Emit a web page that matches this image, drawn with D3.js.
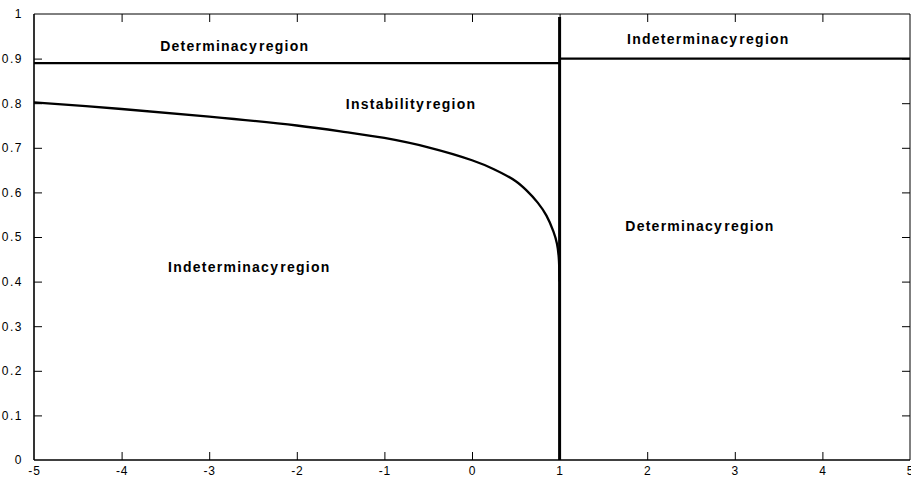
<!DOCTYPE html>
<html>
<head>
<meta charset="utf-8">
<script src="https://cdn.jsdelivr.net/npm/d3@7"></script>
<style>
  html, body { margin: 0; padding: 0; background: #fff; }
  svg { display: block; }
</style>
</head>
<body>
<svg id="chart" width="911" height="478"></svg>
<script>
// ---- data ----
const xTicks = [-5, -4, -3, -2, -1, 0, 1, 2, 3, 4, 5];
const xTickLabels = ["-5", "-4", "-3", "-2", "-1", "0", "1", "2", "3", "4", "5"];
const yTicks = [0, 0.1, 0.2, 0.3, 0.4, 0.5, 0.6, 0.7, 0.8, 0.9, 1];
const yTickLabels = ["0", "0.1", "0.2", "0.3", "0.4", "0.5", "0.6", "0.7", "0.8", "0.9", "1"];

// boundary curve (left part)
const curveX = [-5, -4, -3, -2, -1.5, -1, -0.5, 0, 0.25, 0.5, 0.625, 0.75, 0.85, 0.93, 0.97, 0.99, 1.0];
const curveY = [0.802, 0.787, 0.770, 0.750, 0.737, 0.722, 0.701, 0.672, 0.652, 0.625, 0.604, 0.577, 0.548, 0.512, 0.485, 0.455, 0.40];

// horizontal boundaries
const leftLineX = [-5, 1];
const leftLineY = 0.89;
const rightLineX = [1, 5];
const rightLineY = 0.9;

// vertical boundary
const vertX = 1;
const vertY = [0, 0.993];

// region labels
const labelText = ["Determinacy region", "Instability region", "Indeterminacy region", "Determinacy region", "Indeterminacy region"];
const labelX = [-3.56, -1.44, 1.77, 1.75, -3.47];
const labelY = [0.917, 0.787, 0.933, 0.513, 0.4215];

// ---- layout ----
const W = 911, H = 478;
const margin = {left: 34, right: 1, top: 14, bottom: 18};
const svg = d3.select("#chart");
const x = d3.scaleLinear().domain([-5, 5]).range([margin.left, W - margin.right]);
const y = d3.scaleLinear().domain([0, 1]).range([H - margin.bottom, margin.top]);

const font = "'Liberation Sans', Arial, sans-serif";

// axes (ticks inward)
const tickLen = 8;
const gx = svg.append("g").attr("transform", `translate(0,${y(0)})`)
  .call(d3.axisBottom(x).tickValues(xTicks).tickSize(-tickLen).tickPadding(tickLen + 2).tickFormat((d, i) => xTickLabels[i]));
const gxTop = svg.append("g").attr("transform", `translate(0,${y(1)})`)
  .call(d3.axisTop(x).tickValues(xTicks).tickSize(-tickLen).tickFormat(""));
const gy = svg.append("g").attr("transform", `translate(${x(-5)},0)`)
  .call(d3.axisLeft(y).tickValues(yTicks).tickSize(-tickLen).tickPadding(tickLen + 3).tickFormat((d, i) => yTickLabels[i]));
const gyR = svg.append("g").attr("transform", `translate(${x(5)},0)`)
  .call(d3.axisRight(y).tickValues(yTicks).tickSize(-tickLen).tickFormat(""));

[gx, gxTop, gy, gyR].forEach(g => {
  g.attr("font-size", null);
  g.select(".domain").remove();
  g.selectAll(".tick line").attr("stroke", "#000").attr("stroke-width", 1);
  g.selectAll(".tick text").attr("fill", "#000").attr("font-family", font).attr("font-size", 12);
});
gy.selectAll(".tick text").style("letter-spacing", "1.5px");
gx.selectAll(".tick text").style("letter-spacing", "0.8px").attr("dy", "0.4em");
// hide end ticks that coincide with box edges
gx.selectAll(".tick line").filter(d => d === -5 || d === 5).remove();
gxTop.selectAll(".tick line").filter(d => d === -5 || d === 5).remove();
gy.selectAll(".tick line").filter(d => d === 0 || d === 1).remove();
gyR.selectAll(".tick line").filter(d => d === 0 || d === 1).remove();

// box
svg.append("line").attr("x1", x(-5)).attr("x2", x(5)).attr("y1", y(1)).attr("y2", y(1)).attr("stroke", "#000").attr("stroke-width", 1);
svg.append("line").attr("x1", x(5)).attr("x2", x(5)).attr("y1", y(0)).attr("y2", y(1)).attr("stroke", "#000").attr("stroke-width", 1);
svg.append("line").attr("x1", x(-5)).attr("x2", x(5)).attr("y1", y(0)).attr("y2", y(0)).attr("stroke", "#000").attr("stroke-width", 1.6);
svg.append("line").attr("x1", x(-5)).attr("x2", x(-5)).attr("y1", y(0)).attr("y2", y(1)).attr("stroke", "#000").attr("stroke-width", 1.6);

// horizontal boundaries
const hline = d3.line().x(d => x(d[0])).y(d => y(d[1]));
svg.append("path").attr("d", hline(leftLineX.map(v => [v, leftLineY])))
  .attr("fill", "none").attr("stroke", "#000").attr("stroke-width", 2.2);
svg.append("path").attr("d", hline(rightLineX.map(v => [v, rightLineY])))
  .attr("fill", "none").attr("stroke", "#000").attr("stroke-width", 2.2);

// curve
const curveLine = d3.line().x(d => x(d[0])).y(d => y(d[1])).curve(d3.curveCatmullRom.alpha(0.5));
const curveData = curveX.map((v, i) => [v, curveY[i]]);
svg.append("path").attr("d", curveLine(curveData))
  .attr("fill", "none").attr("stroke", "#000").attr("stroke-width", 2.3);

// vertical boundary
svg.append("path").attr("d", hline(vertY.map(v => [vertX, v])))
  .attr("fill", "none").attr("stroke", "#000").attr("stroke-width", 3);

// labels
svg.append("g").selectAll("text").data(labelText).join("text")
  .attr("x", (d, i) => x(labelX[i]))
  .attr("y", (d, i) => y(labelY[i]))
  .text(d => d)
  .attr("fill", "#000")
  .style("font-family", font)
  .style("font-size", "14px")
  .style("font-weight", "bold")
  .style("letter-spacing", "1.25px")
  .style("word-spacing", "-4px");
</script>
</body>
</html>
